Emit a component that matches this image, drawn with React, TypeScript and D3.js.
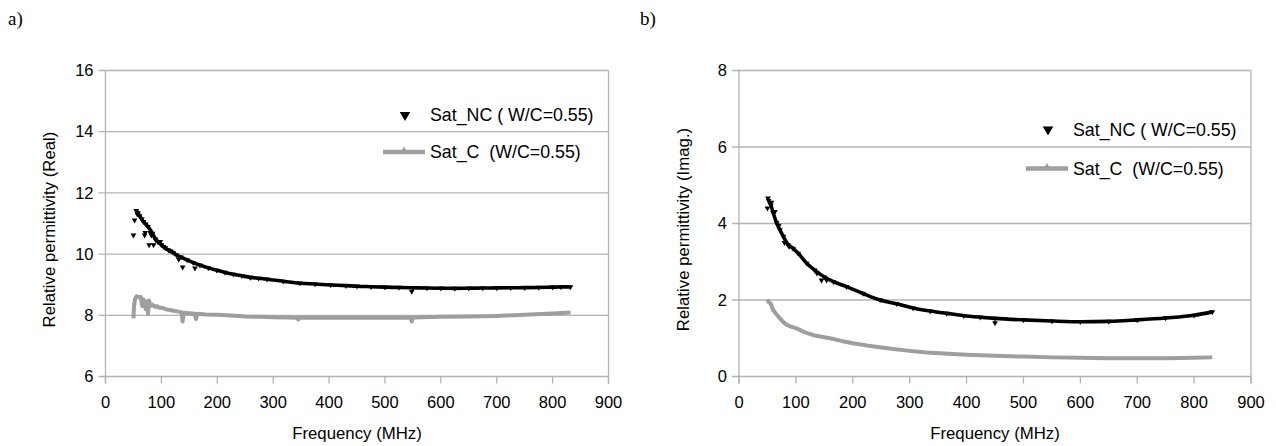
import React from 'react';
import * as d3 from 'd3';

// ---------- shared ticks ----------
const xTicks = [0, 100, 200, 300, 400, 500, 600, 700, 800, 900];
const yTicksA = [6, 8, 10, 12, 14, 16];
const yTicksB = [0, 2, 4, 6, 8];

// ---------- panel a) : real part ----------
const aNcFreq = [55, 58, 61, 65, 68, 72, 76, 84, 89, 94, 100, 107, 113, 121, 127, 135, 146, 157, 169, 184, 199, 214, 229, 244, 259, 274, 289, 318, 348, 375, 403, 430, 450, 475, 500, 525, 550, 575, 600, 625, 650, 675, 700, 725, 750, 775, 800, 815, 832];
const aNcVal = [11.42, 11.35, 11.25, 11.14, 11.06, 10.98, 10.9, 10.68, 10.5, 10.4, 10.3, 10.2, 10.13, 10.05, 9.97, 9.9, 9.81, 9.72, 9.64, 9.55, 9.47, 9.4, 9.34, 9.29, 9.24, 9.21, 9.18, 9.11, 9.05, 9.02, 8.99, 8.97, 8.95, 8.935, 8.92, 8.91, 8.9, 8.89, 8.885, 8.88, 8.885, 8.89, 8.895, 8.9, 8.905, 8.91, 8.92, 8.925, 8.93];
const aNcScatterFreq = [50, 52, 57, 70, 71, 78, 80, 82, 86, 90, 98, 104, 117, 131, 138, 160, 548];
const aNcScatterVal = [10.62, 11.11, 11.3, 10.62, 10.7, 10.3, 10.7, 10.62, 10.3, 10.46, 10.41, 10.24, 10.1, 9.83, 9.57, 9.54, 8.78];
const aCFreq = [50, 51, 53, 56, 60, 63, 66, 68, 70, 72, 74, 76, 78, 80, 84, 88, 92, 96, 100, 108, 115, 122, 130, 136, 138, 140, 150, 160, 162, 164, 180, 200, 225, 250, 275, 300, 325, 343, 345, 347, 375, 400, 450, 500, 546, 548, 550, 600, 650, 700, 750, 800, 832];
const aCVal = [7.9, 8.3, 8.55, 8.62, 8.58, 8.6, 8.3, 8.52, 8.4, 8.2, 8.45, 8.05, 8.48, 8.3, 8.35, 8.28, 8.3, 8.25, 8.25, 8.2, 8.17, 8.15, 8.12, 8.1, 7.8, 8.08, 8.07, 8.05, 7.88, 8.05, 8.03, 8.02, 7.99, 7.96, 7.95, 7.94, 7.93, 7.92, 7.86, 7.92, 7.92, 7.92, 7.92, 7.92, 7.93, 7.8, 7.93, 7.95, 7.96, 7.98, 8.02, 8.06, 8.09];

// ---------- panel b) : imaginary part ----------
const bNcFreq = [52, 56, 60, 66, 72, 78, 86, 95, 104, 119, 133, 150, 166, 189, 218, 248, 277, 306, 336, 365, 395, 424, 450, 500, 550, 600, 650, 700, 750, 800, 832];
const bNcVal = [4.6, 4.48, 4.28, 4.02, 3.83, 3.66, 3.45, 3.35, 3.22, 2.96, 2.78, 2.6, 2.48, 2.35, 2.17, 2.0, 1.9, 1.79, 1.71, 1.65, 1.59, 1.55, 1.52, 1.48, 1.45, 1.43, 1.44, 1.48, 1.53, 1.6, 1.69];
const bNcScatterFreq = [50, 51, 57, 63, 70, 80, 88, 137, 145, 154, 450];
const bNcScatterVal = [4.4, 4.66, 4.55, 4.31, 3.95, 3.5, 3.4, 2.7, 2.52, 2.52, 1.4];
const bCFreq = [50, 52, 56, 60, 66, 72, 78, 84, 92, 101, 115, 131, 145, 160, 180, 200, 225, 250, 275, 300, 330, 360, 400, 450, 500, 550, 600, 650, 700, 750, 800, 832];
const bCVal = [2.02, 1.95, 1.9, 1.74, 1.62, 1.52, 1.42, 1.35, 1.3, 1.26, 1.16, 1.08, 1.04, 1.0, 0.93, 0.87, 0.81, 0.76, 0.71, 0.67, 0.63, 0.6, 0.57, 0.54, 0.52, 0.5, 0.49, 0.48, 0.48, 0.48, 0.49, 0.5];

const legendNC = 'Sat_NC ( W/C=0.55)';
const legendC = 'Sat_C  (W/C=0.55)';

const FONT = '"Liberation Sans", Arial, sans-serif';
const GRID = '#b3b3b3';
const GRAY = '#9e9e9e';

type PanelProps = {
  letter: string;
  letterX: number;
  left: number;
  right: number;
  top: number;
  bottom: number;
  yDomain: [number, number];
  yTicks: number[];
  yTitle: string;
  yTitleX: number;
  ncF: number[];
  ncV: number[];
  ncSF: number[];
  ncSV: number[];
  cF: number[];
  cV: number[];
  legX: number;
  legY1: number;
  legY2: number;
};

function Panel(p: PanelProps) {
  const x = d3.scaleLinear().domain([0, 900]).range([p.left, p.right]);
  const y = d3.scaleLinear().domain(p.yDomain).range([p.bottom, p.top]);
  const line = d3
    .line<[number, number]>()
    .x((d) => x(d[0]))
    .y((d) => y(d[1]))
    .curve(d3.curveMonotoneX);
  const rawLine = d3
    .line<[number, number]>()
    .x((d) => x(d[0]))
    .y((d) => y(d[1]));
  const ncPts: [number, number][] = p.ncF.map((f, i) => [f, p.ncV[i]]);
  const ncScatter: [number, number][] = p.ncSF.map((f, i) => [f, p.ncSV[i]]);
  const cPts: [number, number][] = p.cF.map((f, i) => [f, p.cV[i]]);
  const tri = d3.symbol(d3.symbolTriangle, 14)() || '';
  const triLeg = d3.symbol(d3.symbolTriangle, 48)() || '';
  const triLegSmall = d3.symbol(d3.symbolTriangle, 26)() || '';
  const midY = (p.top + p.bottom) / 2;
  const midX = (p.left + p.right) / 2;
  return (
    <g>
      <text x={p.letterX} y={25} fontFamily='"Liberation Serif", "Times New Roman", serif' fontSize={19}>
        {p.letter}
      </text>
      {/* grid */}
      {p.yTicks.map((t) => (
        <line key={'g' + t} x1={p.left - 7} x2={p.right} y1={y(t)} y2={y(t)} stroke={GRID} strokeWidth={1.3} />
      ))}
      <line x1={p.left} x2={p.left} y1={p.top} y2={p.bottom + 7} stroke={GRID} strokeWidth={1.3} />
      <line x1={p.right} x2={p.right} y1={p.top} y2={p.bottom + 7} stroke={GRID} strokeWidth={1.3} />
      {xTicks.map((t) => (
        <line key={'xt' + t} x1={x(t)} x2={x(t)} y1={p.bottom} y2={p.bottom + 7} stroke={GRID} strokeWidth={1.3} />
      ))}
      {/* tick labels */}
      {p.yTicks.map((t) => (
        <text key={'yl' + t} x={p.left - 12} y={y(t)} dy="0.35em" textAnchor="end" fontFamily={FONT} fontSize={16.5} fill="#000">
          {t}
        </text>
      ))}
      {xTicks.map((t) => (
        <text key={'xl' + t} x={x(t)} y={p.bottom + 31} textAnchor="middle" fontFamily={FONT} fontSize={16.5} fill="#000">
          {t}
        </text>
      ))}
      {/* axis titles */}
      <text x={midX} y={439} textAnchor="middle" fontFamily={FONT} fontSize={16.8}>
        Frequency (MHz)
      </text>
      <text
        transform={`translate(${p.yTitleX},${midY + 6}) rotate(-90)`}
        textAnchor="middle"
        dy="0.35em"
        fontFamily={FONT}
        fontSize={16.8}
      >
        {p.yTitle}
      </text>
      {/* series C (gray line) */}
      <path d={rawLine(cPts) || ''} fill="none" stroke={GRAY} strokeWidth={4} strokeLinejoin="round" />
      {/* series NC (black triangles) */}
      <path d={line(ncPts) || ''} fill="none" stroke="#000" strokeWidth={3.6} strokeLinejoin="round" />
      {ncPts.concat(ncScatter).map((d, i) => (
        <path key={'m' + i} d={tri} transform={`translate(${x(d[0])},${y(d[1])}) rotate(180)`} fill="#000" />
      ))}
      {/* legend */}
      <path d={triLeg} transform={`translate(${p.legX - 25},${p.legY1}) rotate(180)`} fill="#000" />
      <text x={p.legX} y={p.legY1} dy="0.35em" fontFamily={FONT} fontSize={17.8}>
        {legendNC}
      </text>
      <line x1={p.legX - 47} x2={p.legX - 5} y1={p.legY2} y2={p.legY2} stroke={GRAY} strokeWidth={4.6} />
      <path d={triLegSmall} transform={`translate(${p.legX - 26},${p.legY2 - 1})`} fill={GRAY} />
      <text x={p.legX} y={p.legY2} dy="0.35em" fontFamily={FONT} fontSize={17.8} style={{ whiteSpace: 'pre' }}>
        {legendC}
      </text>
    </g>
  );
}

export default function App() {
  return (
    <svg width={1276} height={446} style={{ position: 'absolute', left: 0, top: 0, background: '#fff' }}>
      <rect width={1276} height={446} fill="#fff" />
      <Panel
        letter="a)"
        letterX={8}
        left={105.5}
        right={608.5}
        top={70.5}
        bottom={376.5}
        yDomain={[6, 16]}
        yTicks={yTicksA}
        yTitle="Relative permittivity (Real)"
        yTitleX={49}
        ncF={aNcFreq}
        ncV={aNcVal}
        ncSF={aNcScatterFreq}
        ncSV={aNcScatterVal}
        cF={aCFreq}
        cV={aCVal}
        legX={430}
        legY1={115}
        legY2={152}
      />
      <Panel
        letter="b)"
        letterX={640}
        left={739}
        right={1251}
        top={70.5}
        bottom={376.5}
        yDomain={[0, 8]}
        yTicks={yTicksB}
        yTitle="Relative permittivity (Imag.)"
        yTitleX={683}
        ncF={bNcFreq}
        ncV={bNcVal}
        ncSF={bNcScatterFreq}
        ncSV={bNcScatterVal}
        cF={bCFreq}
        cV={bCVal}
        legX={1073}
        legY1={129.5}
        legY2={168.5}
      />
    </svg>
  );
}
